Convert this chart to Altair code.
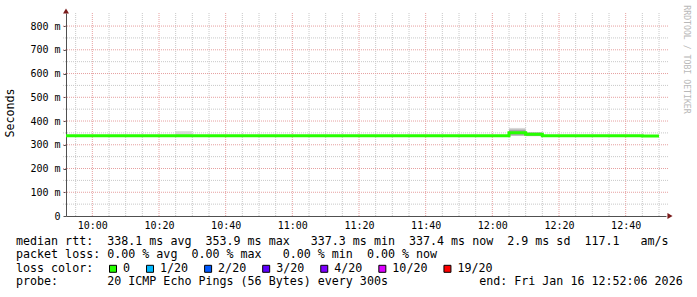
import altair as alt
import pandas as pd

DAY = "2026-01-16T"

# 5-minute RRD steps (start times) and median RTT (ms)
step_start = ["09:50", "09:55", "10:00", "10:05", "10:10", "10:15", "10:20", "10:25",
              "10:30", "10:35", "10:40", "10:45", "10:50", "10:55", "11:00", "11:05",
              "11:10", "11:15", "11:20", "11:25", "11:30", "11:35", "11:40", "11:45",
              "11:50", "11:55", "12:00", "12:05", "12:10", "12:15", "12:20", "12:25",
              "12:30", "12:35", "12:40", "12:45"]
last_step_end = "12:50"
median_ms = [337.6, 337.5, 337.7, 337.6, 337.5, 337.6, 337.8, 338.0,
             337.6, 337.7, 337.6, 337.5, 337.6, 337.7, 337.6, 337.5,
             337.6, 337.6, 337.7, 337.6, 337.5, 337.6, 337.7, 337.6,
             337.5, 337.6, 337.6, 350.5, 344.5, 337.6, 337.5, 337.6,
             337.7, 337.6, 337.5, 337.4]

# visible smoke (spread of the 20 pings) per step
smoke_start = ["10:25", "12:05", "12:05", "12:10"]
smoke_end = ["10:30", "12:10", "12:10", "12:15"]
smoke_lo = [338.0, 338.5, 338.5, 336.5]
smoke_hi = [357.0, 371.0, 364.0, 352.0]
smoke_level = ["light", "light", "dark", "mid"]

# axes / grid
y_major = [100, 200, 300, 400, 500, 600, 700, 800]
y_labels = [0, 100, 200, 300, 400, 500, 600, 700, 800]
y_minor = [50, 150, 250, 350, 450, 550, 650, 750]
x_major = ["10:00", "10:20", "10:40", "11:00", "11:20", "11:40", "12:00", "12:20", "12:40"]
x_minor = ["09:55", "10:05", "10:10", "10:15", "10:25", "10:30", "10:35", "10:45",
           "10:50", "10:55", "11:05", "11:10", "11:15", "11:25", "11:30", "11:35",
           "11:45", "11:50", "11:55", "12:05", "12:10", "12:15", "12:25", "12:30",
           "12:35", "12:45", "12:50"]

# legend text
loss_labels = ["0", "1/20", "2/20", "3/20", "4/20", "10/20", "19/20"]
loss_colors = ["#26ff00", "#00b8ff", "#0059ff", "#5e00ff", "#7e00ff", "#dd00ff", "#ff0000"]
line_rtt = ("median rtt:  338.1 ms avg  353.9 ms max   337.3 ms min  "
            "337.4 ms now  2.9 ms sd  117.1   am/s")
line_loss = "packet loss: 0.00 % avg  0.00 % max   0.00 % min  0.00 % now"
line_color = "loss color:"
line_probe = "probe:       20 ICMP Echo Pings (56 Bytes) every 300s             end: Fri Jan 16 12:52:06 2026"
watermark = "RRDTOOL / TOBI OETIKER"
y_title = "Seconds"

W, H = 600, 203
MONO = "DejaVu Sans Mono"
CH = 7.02  # char width at footer font size
FS = 11.66


def ts(hm):
    return DAY + hm + ":00"


def dt(h, m, s):
    return alt.DateTime(year=2026, month=1, date=16, hours=h, minutes=m, seconds=s)


med_df = pd.DataFrame({"t": [ts(s) for s in step_start] + [ts(last_step_end)],
                       "v": median_ms + [median_ms[-1]]})
smoke_df = pd.DataFrame({"t": [ts(s) for s in smoke_start],
                         "t2": [ts(s) for s in smoke_end],
                         "lo": smoke_lo, "hi": smoke_hi, "lvl": smoke_level})

x_scale = alt.Scale(domain=[dt(9, 52, 6), dt(12, 52, 6)], nice=False)
y_scale = alt.Scale(domain=[0, 855], nice=False)

x_axis = alt.Axis(values=[dt(int(h[:2]), int(h[3:]), 0) for h in x_major], format="%H:%M",
                  title=None, grid=False, ticks=False, labelPadding=4,
                  labelFont=MONO, labelFontSize=10, labelColor="#000000",
                  domainColor="#505050", domainWidth=1, labelFlush=False)
y_axis = alt.Axis(values=y_labels, title=None, grid=False,
                  labelExpr="datum.value == 0 ? '0\u00a0\u00a0' : datum.value + '\u00a0m'",
                  tickSize=3, tickColor="#505050", labelPadding=3,
                  labelFont=MONO, labelFontSize=10, labelColor="#000000",
                  domainColor="#505050", domainWidth=1)

X = alt.X("t:T", scale=x_scale, axis=x_axis)
Y = alt.Y("v:Q", scale=y_scale, axis=y_axis)

vgrid_minor = alt.Chart(pd.DataFrame({"t": [ts(s) for s in x_minor]})).mark_rule(
    color="#c8c8c8", strokeDash=[1, 1], strokeWidth=1).encode(
    x=X, y=alt.value(0), y2=alt.value(H))
vgrid_major = alt.Chart(pd.DataFrame({"t": [ts(s) for s in x_major]})).mark_rule(
    color="#e6a0a0", strokeDash=[1, 1], strokeWidth=1).encode(
    x=X, y=alt.value(0), y2=alt.value(H))
hgrid_minor = alt.Chart(pd.DataFrame({"v": y_minor})).mark_rule(
    color="#c8c8c8", strokeDash=[1, 1], strokeWidth=1).encode(
    y=Y, x=alt.value(-3), x2=alt.value(W + 3))
hgrid_major = alt.Chart(pd.DataFrame({"v": y_major})).mark_rule(
    color="#e6a0a0", strokeDash=[1, 1], strokeWidth=1).encode(
    y=Y, x=alt.value(-3), x2=alt.value(W + 3))

smoke = alt.Chart(smoke_df).mark_rect(clip=True).encode(
    x=X, x2="t2:T",
    y=alt.Y("lo:Q", scale=y_scale, axis=y_axis), y2="hi:Q",
    color=alt.Color("lvl:N", scale=alt.Scale(domain=["light", "mid", "dark"],
                                             range=["#d8d8d8", "#a0a0a0", "#a8a8a8"]),
                    legend=None))

median = alt.Chart(med_df).mark_line(interpolate="step-after", strokeWidth=3,
                                     color="#26ff00", clip=True, strokeCap="butt").encode(x=X, y=Y)

arrow_up = alt.Chart(pd.DataFrame({"t": [DAY + "09:52:06"], "v": [855]})).mark_point(
    shape="triangle-up", filled=True, size=35, color="#7a1c1c", opacity=1, yOffset=-2).encode(x=X, y=Y)
arrow_right = alt.Chart(pd.DataFrame({"t": [DAY + "12:52:06"], "v": [0]})).mark_point(
    shape="triangle-right", filled=True, size=35, color="#7a1c1c", opacity=1, xOffset=4).encode(x=X, y=Y)


def nb(s):
    return s.replace(" ", "\u00a0")


def text_layer(s, x, y, size=FS, color="#000000", angle=0, align="left", font=MONO):
    return alt.Chart(pd.DataFrame({"s": [nb(s)]})).mark_text(
        align=align, baseline="middle", font=font, fontSize=size, color=color,
        angle=angle).encode(x=alt.value(x), y=alt.value(y), text="s:N")


LEFT = 16 - 66
rows_y = [241.7 - 13, 255.2 - 13, 268.8 - 13, 282.4 - 13]
texts = [
    text_layer(line_rtt, LEFT, rows_y[0]),
    text_layer(line_loss, LEFT, rows_y[1]),
    text_layer(line_color, LEFT, rows_y[2]),
    text_layer(line_probe, LEFT, rows_y[3]),
    text_layer(y_title, 11 - 66, 113 - 13, angle=270, align="center"),
    text_layer(watermark, 686 - 66, 59.5 - 13, size=8.2, color="#b8b8b8", angle=90, align="center"),
]

squares = []
sx = 109 - 66
for lab, col in zip(loss_labels, loss_colors):
    squares.append(alt.Chart(pd.DataFrame({"c": [col]})).mark_square(
        size=49, filled=True, stroke="#000000", strokeWidth=1, opacity=1).encode(
        x=alt.value(sx + 4), y=alt.value(rows_y[2]), color=alt.value(col)))
    squares.append(text_layer(lab, sx + 14, rows_y[2]))
    sx = sx + 14 + len(lab) * CH + 16

chart = alt.layer(vgrid_minor, vgrid_major, hgrid_minor, hgrid_major, smoke, median,
                  arrow_up, arrow_right, *texts, *squares).properties(
    width=W, height=H,
    autosize=alt.AutoSizeParams(type="none"),
    padding={"left": 66, "top": 13, "right": 31, "bottom": 81},
).configure_view(strokeWidth=0)

chart.save("out.html", embed_options={"renderer": "svg", "actions": False})
